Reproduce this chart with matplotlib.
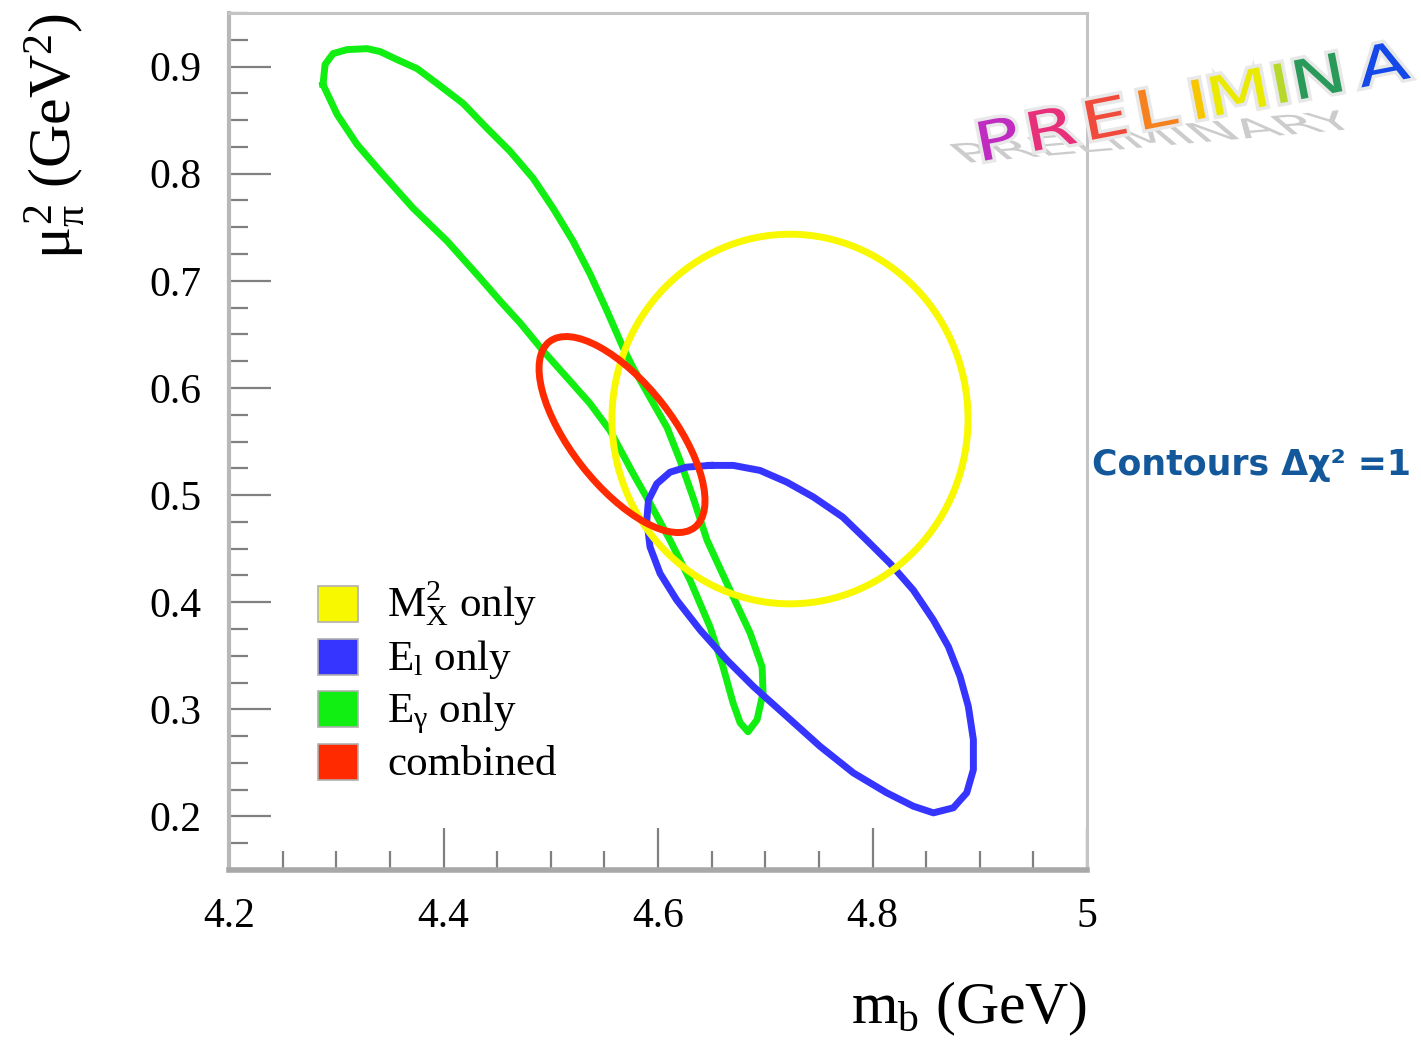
import numpy as np
import matplotlib.pyplot as plt
from matplotlib.patches import Ellipse, Rectangle, PathPatch
from matplotlib.textpath import TextPath
from matplotlib.font_manager import FontProperties
from matplotlib.transforms import Affine2D
from matplotlib.ticker import FuncFormatter
import matplotlib.patheffects as pe

plt.rcParams['font.family'] = 'Liberation Serif'
plt.rcParams['mathtext.fontset'] = 'custom'
plt.rcParams['mathtext.rm'] = 'Liberation Serif'
plt.rcParams['mathtext.it'] = 'Liberation Serif'
plt.rcParams['mathtext.bf'] = 'Liberation Serif:bold'

# E_gamma only contour (m_b, mu_pi^2)
green_x = [4.2876, 4.2895, 4.2970, 4.3100, 4.3287, 4.3408, 4.3566, 4.3753, 4.3939,
           4.4182, 4.4406, 4.4620, 4.4834, 4.5021, 4.5207, 4.5366, 4.5524, 4.5674,
           4.5767, 4.5925, 4.6084, 4.6205, 4.6326, 4.6457, 4.6671, 4.6858, 4.6970,
           4.6979, 4.6923, 4.6839, 4.6765, 4.6699, 4.6606, 4.6485, 4.6298, 4.6112,
           4.5925, 4.5767, 4.5552, 4.5366, 4.5152, 4.4928, 4.4713, 4.4527, 4.4340,
           4.4033, 4.3716, 4.3408, 4.3193, 4.3007]
green_y = [0.8832, 0.9019, 0.9121, 0.9158, 0.9167, 0.9140, 0.9065, 0.8981, 0.8842,
           0.8656, 0.8423, 0.8209, 0.7958, 0.7678, 0.7371, 0.7064, 0.6719, 0.6375,
           0.6189, 0.5910, 0.5630, 0.5323, 0.4979, 0.4578, 0.4113, 0.3713, 0.3396,
           0.3154, 0.2903, 0.2791, 0.2875, 0.3061, 0.3396, 0.3769, 0.4206, 0.4578,
           0.4923, 0.5202, 0.5602, 0.5854, 0.6096, 0.6347, 0.6608, 0.6812, 0.7027,
           0.7371, 0.7678, 0.8023, 0.8274, 0.8553]

# E_l only contour
blue_x = [4.6485, 4.6268, 4.6112, 4.5988, 4.5910, 4.5895, 4.5925, 4.6019, 4.6174,
          4.6392, 4.6641, 4.6889, 4.7200, 4.7511, 4.7821, 4.8132, 4.8380, 4.8567,
          4.8753, 4.8878, 4.8940, 4.8940, 4.8893, 4.8816, 4.8707, 4.8567, 4.8380,
          4.8163, 4.7946, 4.7722, 4.7448, 4.7200, 4.6951, 4.6702]
blue_y = [0.5277, 0.5261, 0.5214, 0.5106, 0.4951, 0.4765, 0.4516, 0.4268, 0.4020,
          0.3741, 0.3461, 0.3213, 0.2934, 0.2654, 0.2407, 0.2221, 0.2096, 0.2034,
          0.2081, 0.2221, 0.2437, 0.2717, 0.3027, 0.3306, 0.3585, 0.3834, 0.4113,
          0.4362, 0.4578, 0.4795, 0.4982, 0.5121, 0.5230, 0.5277]

# M_X^2 only contour: centre, full widths, tilt
yellow_center = (4.723, 0.571)
yellow_size = (0.332, 0.345)
yellow_angle = 0

# combined fit contour
red_center = (4.5664, 0.5565)
red_size = (0.220, 0.095)
red_angle = -52

labels = [r'M$_{X}^{2}$ only', r'E$_{l}$ only', r'E$_{\gamma}$ only', 'combined']
colors = ['#f8f800', '#3535ff', '#11ee11', '#ff2a00']

fig = plt.figure(figsize=(14.21, 10.47), dpi=100)
ax = fig.add_axes([0.1612, 0.169, 0.6038, 0.8186])

lw = 5
ax.plot(green_x + green_x[:1], green_y + green_y[:1], color=colors[2], lw=lw,
        solid_joinstyle='round', zorder=2)
ax.plot(blue_x + blue_x[:1], blue_y + blue_y[:1], color=colors[1], lw=lw,
        solid_joinstyle='round', zorder=3)
ax.add_patch(Ellipse(yellow_center, yellow_size[0], yellow_size[1], angle=yellow_angle,
                     fill=False, edgecolor=colors[0], lw=lw, zorder=4))
ax.add_patch(Ellipse(red_center, red_size[0], red_size[1], angle=red_angle,
                     fill=False, edgecolor=colors[3], lw=lw, zorder=5))

ax.set_xlim(4.2, 5.0)
ax.set_ylim(0.15, 0.95)
ax.set_xticks(np.arange(4.2, 5.01, 0.2))
ax.set_xticks(np.arange(4.2, 5.01, 0.05), minor=True)
ax.set_yticks(np.arange(0.2, 0.91, 0.1))
ax.set_yticks(np.arange(0.15, 0.951, 0.025), minor=True)
fmt = FuncFormatter(lambda v, p: f'{v:g}')
ax.xaxis.set_major_formatter(fmt)
ax.yaxis.set_major_formatter(fmt)
ax.tick_params(which='both', direction='in', top=False, right=False,
               color='#808080', width=1.6, labelsize=30, pad=20)
ax.tick_params(which='major', length=30)
ax.tick_params(which='minor', length=14)

for side in ['top', 'right']:
    ax.spines[side].set_color('#c4c4c4')
    ax.spines[side].set_linewidth(2.2)
ax.spines['left'].set_color('#b8b8b8')
ax.spines['left'].set_linewidth(3)
ax.spines['bottom'].set_color('#a8a8a8')
ax.spines['bottom'].set_linewidth(4)

ax.set_xlabel(r'm$_{b}$ (GeV)', fontsize=43, loc='right')
ax.xaxis.set_label_coords(1.0, -0.128)
ax.set_ylabel(r'$\mu_{\pi}^{2}$ (GeV$^{2}$)', fontsize=43, loc='top')
ax.yaxis.set_label_coords(-0.165, 1.0)

# legend boxes drawn by hand
for i, (lab, c) in enumerate(zip(labels, colors)):
    yc = 0.3104 - i * 0.0615
    ax.add_patch(Rectangle((0.1037, yc - 0.021), 0.0466, 0.042, transform=ax.transAxes,
                           facecolor=c, edgecolor='#b0b0b0', lw=1.2, zorder=6))
    ax.text(0.1841, yc - 0.015, lab, transform=ax.transAxes, fontsize=31,
            va='baseline', ha='left', zorder=6)

fig.text(1092 / 1421, 1 - 465 / 1047, 'Contours Δχ² =1', fontsize=25, color='#12589a',
         fontweight='bold', family='DejaVu Sans', va='center', ha='left')

# PRELIMINARY stamp, drawn in pixel space
H = 1047
prop = FontProperties(family='DejaVu Sans')
shadow = TextPath((0, 0), 'PRELIMINARY', size=50, prop=prop)
tr = Affine2D().scale(1.2, 0.55).skew_deg(-45, 0).rotate_deg(5).translate(965, H - 163)
fig.add_artist(PathPatch(shadow, transform=tr, facecolor='#cccccc', edgecolor='none',
                         zorder=8))

word = 'PRELIMINARY'
word_colors = ['#c02cc0', '#e8307a', '#f04a3c', '#f5821f', '#f7c600', '#eaea00',
               '#b5d82a', '#2a9a5a', '#1448e8', '#1a3cf0', '#2030f0']
offsets = [0, 51, 109, 163, 217, 236, 301, 322, 390, 470, 530]
ang = np.deg2rad(11)
for ch, c, d in zip(word, word_colors, offsets):
    p = TextPath((0, 0), ch, size=54, prop=prop)
    t = Affine2D().scale(1.4, 1).rotate_deg(11).translate(978 + d * np.cos(ang),
                                                         H - 162 + d * np.sin(ang))
    patch = PathPatch(p, transform=t, facecolor=c, edgecolor='none', zorder=9)
    patch.set_path_effects([pe.withStroke(linewidth=5, foreground='#e8e8e8')])
    fig.add_artist(patch)

fig.savefig('out.png', dpi=100, facecolor='white')
